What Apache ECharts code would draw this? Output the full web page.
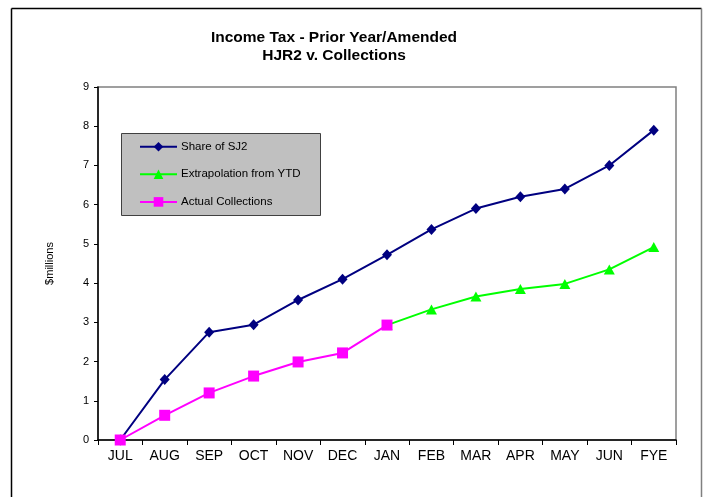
<!DOCTYPE html>
<html>
<head>
<meta charset="utf-8">
<script src="https://cdn.jsdelivr.net/npm/echarts@6/dist/echarts.min.js"></script>
<style>
html,body{margin:0;padding:0;background:#fff;}
#chart{width:704px;height:497px;}
</style>
</head>
<body>
<div id="chart"></div>
<script>
var categories = ['JUL','AUG','SEP','OCT','NOV','DEC','JAN','FEB','MAR','APR','MAY','JUN','FYE'];
var shareSJ2 = [0, 1.54, 2.75, 2.94, 3.57, 4.1, 4.72, 5.37, 5.9, 6.2, 6.4, 7.0, 7.9];
var extrapolation = [null, null, null, null, null, null, 2.93, 3.33, 3.66, 3.85, 3.98, 4.35, 4.92];
var actual = [0, 0.63, 1.2, 1.63, 1.99, 2.22, 2.93, null, null, null, null, null, null];
var yTicks = [0,1,2,3,4,5,6,7,8,9];
var titleLines = ['Income Tax - Prior Year/Amended', 'HJR2 v. Collections'];
var seriesNames = ['Share of SJ2', 'Extrapolation from YTD', 'Actual Collections'];
var yName = '$millions';

var FONT = '"Liberation Sans", Arial, sans-serif';
var chart = echarts.init(document.getElementById('chart'), null, {renderer:'canvas'});
chart.setOption({
  animation: false,
  textStyle: {fontFamily: FONT, color: '#000'},
  graphic: [
    {type:'line', shape:{x1:11.5,y1:8.5,x2:11.5,y2:497}, style:{stroke:'#000',lineWidth:1.5}},
    {type:'line', shape:{x1:11.5,y1:8.5,x2:701.5,y2:8.5}, style:{stroke:'#000',lineWidth:1.5}},
    {type:'line', shape:{x1:701.5,y1:8.5,x2:701.5,y2:497}, style:{stroke:'#808080',lineWidth:1.5}},
    {type:'text', x:334, y:38, style:{text:titleLines[0], font:'bold 15.5px ' + FONT, fill:'#000', textAlign:'center', textVerticalAlign:'middle'}},
    {type:'text', x:334, y:55.5, style:{text:titleLines[1], font:'bold 15.5px ' + FONT, fill:'#000', textAlign:'center', textVerticalAlign:'middle'}},
    {type:'rect', shape:{x:121.5,y:133.5,width:199,height:82}, style:{fill:'#C0C0C0',stroke:'#404040',lineWidth:1}, z:2}
  ],
  legend: {
    show: true,
    orient: 'vertical',
    left: 134,
    top: 135.7,
    padding: [5, 5, 5, 5],
    itemWidth: 37,
    itemHeight: 12,
    itemGap: 15.6,
    z: 5,
    textStyle: {fontSize: 11.5, fontFamily: FONT, color: '#000', padding:[0,0,0,-1]},
    data: seriesNames
  },
  grid: {
    left: 98, right: 28, top: 87, bottom: 57,
    show: true, borderColor: '#808080', borderWidth: 1.5, backgroundColor: 'transparent'
  },
  xAxis: {
    type: 'category',
    data: categories,
    boundaryGap: true,
    axisLine: {lineStyle: {color: '#000', width: 1.5}},
    axisTick: {show: true, length: 5, alignWithLabel: false, lineStyle: {color:'#000'}},
    axisLabel: {fontSize: 14, color: '#000', margin: 9, fontFamily: FONT, interval: 0},
    splitLine: {show: false}
  },
  yAxis: {
    type: 'value',
    min: yTicks[0], max: yTicks[yTicks.length-1], interval: 1,
    name: yName,
    nameLocation: 'middle',
    nameRotate: 90,
    nameGap: 43,
    nameTextStyle: {fontSize: 11, color: '#000', fontFamily: FONT},
    axisLine: {show: true, lineStyle: {color: '#000', width: 1.5}},
    axisTick: {show: true, length: 4, lineStyle: {color:'#000'}},
    axisLabel: {fontSize: 11, color: '#000', margin: 9, fontFamily: FONT},
    splitLine: {show: false}
  },
  series: [
    {name: seriesNames[0], type: 'line', data: shareSJ2, color: '#000080',
     symbol: 'diamond', symbolSize: [10, 11], lineStyle: {width: 2, color: '#000080'},
     itemStyle: {color: '#000080'}, z: 3},
    {name: seriesNames[1], type: 'line', data: extrapolation, color: '#00FF00',
     symbol: 'triangle', symbolSize: [11, 10], lineStyle: {width: 2, color: '#00FF00'},
     itemStyle: {color: '#00FF00'}, z: 3},
    {name: seriesNames[2], type: 'line', data: actual, color: '#FF00FF',
     symbol: 'rect', symbolSize: 11, lineStyle: {width: 2, color: '#FF00FF'},
     itemStyle: {color: '#FF00FF'}, z: 4}
  ]
});
</script>
</body>
</html>
